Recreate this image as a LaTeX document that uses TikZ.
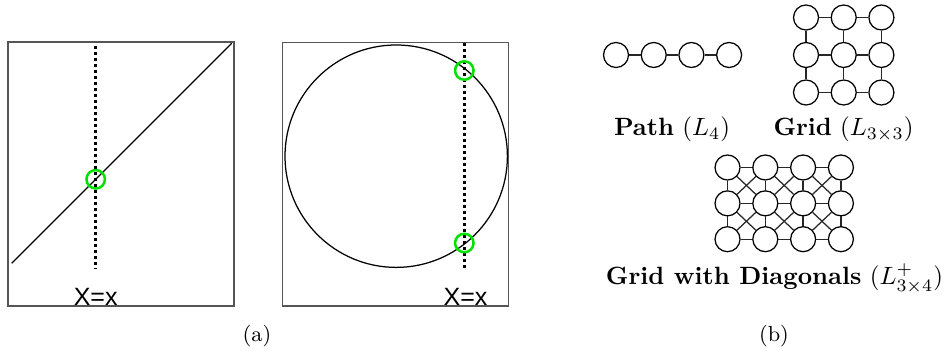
\documentclass[tikz,border=0pt]{standalone}
\usepackage{fontspec}
\newfontfamily\arialfont{Liberation Sans}
\definecolor{mark}{RGB}{0,225,0}
\definecolor{boxgray}{RGB}{85,85,85}
\begin{document}
\begin{tikzpicture}[x=0.4pt,y=-0.4pt,
  vtx/.style={circle,draw,line width=0.5pt,minimum size=10pt,inner sep=0pt,fill=white},
  edge/.style={line width=0.5pt,black!85},
  frame/.style={draw=boxgray,line width=0.6pt},
  curve/.style={line width=0.5pt},
  probe/.style={line width=1.2pt,dash pattern=on 1.2pt off 1.2pt},
  hit/.style={circle,draw=mark,line width=1pt,minimum size=7.4pt,inner sep=0pt},
  axlbl/.style={font=\arialfont\fontsize{10}{12}\selectfont,anchor=base,inner sep=0pt},
  glbl/.style={font=\fontsize{10}{12}\selectfont,anchor=base,inner sep=0pt},
  captxt/.style={font=\fontsize{8.7}{10}\selectfont,inner sep=0pt}]
\useasboundingbox (0,0) rectangle (944,351);

% ---------- panel (a), left ----------
\draw[frame] (8,42) rectangle (234,306);
\draw[curve] (11.7,263.3) -- (231.7,43.3);
\draw[probe] (95.7,46) -- (95.7,269);
\node[hit] (h1) at (95.7,179.3) {};
\node[axlbl] (t1) at (95.7,305.5) {X=x};

% ---------- panel (a), right ----------
\draw[frame] (282.7,42.7) rectangle (508.3,306);
\draw[curve] (396.2,156.2) circle[radius=111.2];
\draw[probe] (464.3,43) -- (464.3,269);
\node[hit] (h2) at (464.3,70.5) {};
\node[hit] (h3) at (464.3,243) {};
\node[axlbl] (t2) at (465.5,305.5) {X=x};

\node[captxt] (capa) at (257,336) {(a)};
\node[captxt] (capb) at (774,336) {(b)};

% ---------- Path L4 ----------
\foreach \i in {1,...,4} {
  \node[vtx] (p\i) at ({616+37.7*(\i-1)},55) {};
}
\foreach \i/\j in {1/2,2/3,3/4} { \draw[edge] (p\i) -- (p\j); }
\node[glbl] (lp) at (672,136) {\textbf{Path} ($L_4$)};

% ---------- Grid L3x3 ----------
\foreach \r in {1,2,3} {
  \foreach \c in {1,2,3} {
    \node[vtx] (g\r\c) at ({806+37.7*(\c-1)},{17.5+37.5*(\r-1)}) {};
  }
}
\foreach \r in {1,2,3} {
  \draw[edge] (g\r1) -- (g\r2);
  \draw[edge] (g\r2) -- (g\r3);
}
\foreach \c in {1,2,3} {
  \draw[edge] (g1\c) -- (g2\c);
  \draw[edge] (g2\c) -- (g3\c);
}
\node[glbl] (lg) at (843.5,136) {\textbf{Grid} ($L_{3\times 3}$)};

% ---------- Grid with diagonals L+3x4 ----------
\foreach \r in {1,2,3} {
  \foreach \c in {1,2,3,4} {
    \node[vtx] (d\r\c) at ({727.5+37.8*(\c-1)},{167.5+35.85*(\r-1)}) {};
  }
}
\foreach \r in {1,2,3} {
  \foreach \c/\n in {1/2,2/3,3/4} { \draw[edge] (d\r\c) -- (d\r\n); }
}
\foreach \r/\s in {1/2,2/3} {
  \foreach \c in {1,2,3,4} { \draw[edge] (d\r\c) -- (d\s\c); }
  \foreach \c/\n in {1/2,2/3,3/4} {
    \draw[edge] (d\r\c) -- (d\s\n);
    \draw[edge] (d\r\n) -- (d\s\c);
  }
}
\node[glbl] (ld) at (774.5,285) {\textbf{Grid with Diagonals} ($L^{+}_{3\times 4}$)};
\end{tikzpicture}
\end{document}
